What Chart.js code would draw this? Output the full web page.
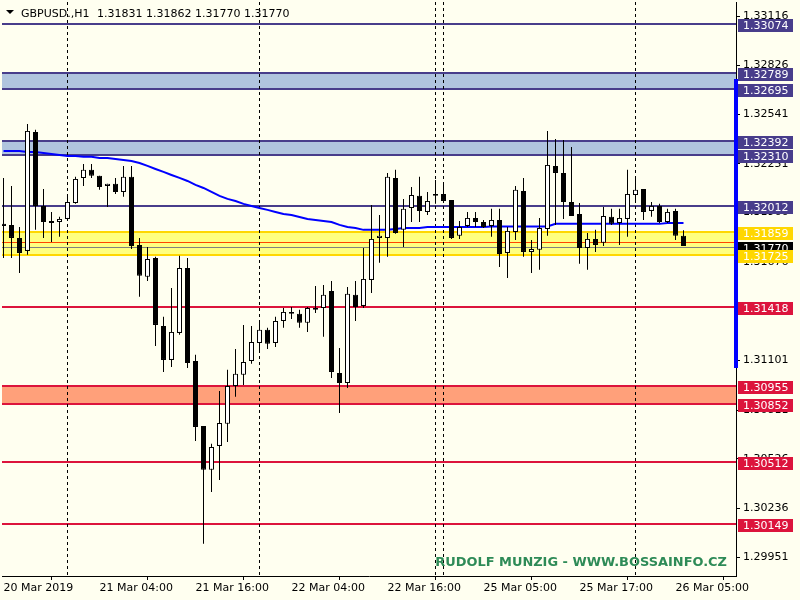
<!DOCTYPE html>
<html>
<head>
<meta charset="utf-8">
<script src="https://cdn.jsdelivr.net/npm/chart.js@4.4.1/dist/chart.umd.min.js"></script>
<style>
  html, body { margin: 0; padding: 0; background: #FFFFF0; }
  #c { display: block; }
</style>
</head>
<body>
<canvas id="c" width="800" height="600"></canvas>
<script>
/* GBPUSD H1 — MT4 style candles with levels */
const symbolText = 'GBPUSD.,H1';
const watermark = 'RUDOLF MUNZIG - WWW.BOSSAINFO.CZ';

// hourly candles, left to right
const opens = [
  1.31900, 1.31894, 1.31818, 1.31742, 1.32438, 1.32005, 1.31917, 1.31911, 1.31929, 1.32022,
  1.32169, 1.32216, 1.32181, 1.32122, 1.32134, 1.32087, 1.32175, 1.31777, 1.31590, 1.31701,
  1.31303, 1.31104, 1.31262, 1.31642, 1.31098, 1.30718, 1.30461, 1.30601, 1.30730, 1.30952,
  1.31017, 1.31098, 1.31203, 1.31280, 1.31203, 1.31332, 1.31385, 1.31374, 1.31321, 1.31408,
  1.31408, 1.31508, 1.31028, 1.30969, 1.31485, 1.31420, 1.31572, 1.31818, 1.31818, 1.32169,
  1.31865, 1.31993, 1.32064, 1.31970, 1.32064, 1.32075, 1.32040, 1.31830, 1.31888, 1.31935,
  1.31911, 1.31888, 1.31923, 1.31730, 1.31853, 1.32093, 1.31736, 1.31748, 1.31870, 1.32239,
  1.32198, 1.32028, 1.31958, 1.31759, 1.31812, 1.31789, 1.31941, 1.31905, 1.31929, 1.32069,
  1.32104, 1.31976, 1.32005, 1.31911, 1.31976, 1.31831
];
const highs = [
  1.32169, 1.32122, 1.31882, 1.32485, 1.32450, 1.32104, 1.31970, 1.31941, 1.32058, 1.32175,
  1.32251, 1.32251, 1.32181, 1.32134, 1.32169, 1.32239, 1.32239, 1.31818, 1.31765, 1.31707,
  1.31356, 1.31525, 1.31713, 1.31701, 1.31134, 1.30718, 1.30613, 1.30923, 1.31046, 1.31168,
  1.31309, 1.31303, 1.31338, 1.31292, 1.31356, 1.31408, 1.31414, 1.31397, 1.31414, 1.31537,
  1.31543, 1.31566, 1.31174, 1.31531, 1.31566, 1.31759, 1.32011, 1.31952, 1.32198, 1.32216,
  1.32046, 1.32116, 1.32175, 1.32087, 1.32157, 1.32145, 1.32040, 1.31917, 1.31970, 1.31970,
  1.31923, 1.31988, 1.31988, 1.31882, 1.32122, 1.32169, 1.31806, 1.31935, 1.32444, 1.32397,
  1.32391, 1.32350, 1.32022, 1.31847, 1.31865, 1.31999, 1.31988, 1.31988, 1.32216, 1.32175,
  1.32104, 1.32028, 1.32017, 1.31988, 1.31988, 1.31862
];
const lows = [
  1.31701, 1.31701, 1.31613, 1.31719, 1.31865, 1.31818, 1.31794, 1.31824, 1.31923, 1.32017,
  1.32122, 1.32169, 1.32099, 1.31999, 1.32075, 1.32058, 1.31753, 1.31473, 1.31566, 1.31186,
  1.31034, 1.31063, 1.31251, 1.31057, 1.30630, 1.30028, 1.30332, 1.30402, 1.30624, 1.30888,
  1.30958, 1.31081, 1.31145, 1.31168, 1.31180, 1.31292, 1.31344, 1.31292, 1.31268, 1.31379,
  1.31239, 1.30999, 1.30794, 1.30940, 1.31332, 1.31408, 1.31496, 1.31672, 1.31707, 1.31842,
  1.31765, 1.31911, 1.31911, 1.31952, 1.32017, 1.32022, 1.31812, 1.31812, 1.31882, 1.31882,
  1.31876, 1.31824, 1.31648, 1.31584, 1.31806, 1.31707, 1.31613, 1.31631, 1.31830, 1.31894,
  1.31929, 1.31946, 1.31666, 1.31631, 1.31736, 1.31771, 1.31894, 1.31777, 1.31824, 1.32040,
  1.31923, 1.31941, 1.31905, 1.31905, 1.31806, 1.31770
];
const closes = [
  1.31888, 1.31818, 1.31730, 1.32444, 1.32005, 1.31911, 1.31905, 1.31929, 1.32028, 1.32163,
  1.32216, 1.32181, 1.32116, 1.32134, 1.32087, 1.32175, 1.31771, 1.31596, 1.31695, 1.31309,
  1.31104, 1.31268, 1.31642, 1.31086, 1.30712, 1.30461, 1.30595, 1.30735, 1.30952, 1.31023,
  1.31092, 1.31209, 1.31280, 1.31198, 1.31332, 1.31385, 1.31374, 1.31321, 1.31408, 1.31397,
  1.31485, 1.31034, 1.30969, 1.31491, 1.31414, 1.31578, 1.31812, 1.31830, 1.32175, 1.31847,
  1.31988, 1.32069, 1.31976, 1.32034, 1.32075, 1.32034, 1.31818, 1.31882, 1.31935, 1.31911,
  1.31882, 1.31923, 1.31724, 1.31859, 1.32099, 1.31736, 1.31753, 1.31876, 1.32245, 1.32198,
  1.32028, 1.31946, 1.31759, 1.31812, 1.31777, 1.31946, 1.31900, 1.31935, 1.32075, 1.32099,
  1.31970, 1.32005, 1.31911, 1.31970, 1.31830, 1.31770
];
// moving average (blue)
const maValues = [
  1.32327, 1.32327, 1.32327, 1.32321, 1.32321, 1.32315, 1.32309, 1.32303, 1.32297, 1.32297,
  1.32292, 1.32292, 1.32286, 1.32286, 1.32280, 1.32274, 1.32268, 1.32256, 1.32239, 1.32221,
  1.32204, 1.32186, 1.32169, 1.32151, 1.32128, 1.32110, 1.32087, 1.32064, 1.32046, 1.32034,
  1.32017, 1.32005, 1.31993, 1.31982, 1.31970, 1.31958, 1.31952, 1.31940, 1.31929, 1.31923,
  1.31917, 1.31911, 1.31894, 1.31882, 1.31876, 1.31865, 1.31865, 1.31865, 1.31865, 1.31870,
  1.31876, 1.31876, 1.31876, 1.31882, 1.31882, 1.31882, 1.31882, 1.31882, 1.31882, 1.31882,
  1.31882, 1.31885, 1.31885, 1.31885, 1.31885, 1.31885, 1.31885, 1.31885, 1.31885, 1.31900,
  1.31900, 1.31900, 1.31900, 1.31900, 1.31900, 1.31900, 1.31900, 1.31900, 1.31900, 1.31900,
  1.31900, 1.31900, 1.31900, 1.31905, 1.31905, 1.31905
];

const xTickIdx = [0, 12, 24, 36, 48, 60, 72, 84];
const xTickText = ['20 Mar 2019', '21 Mar 04:00', '21 Mar 16:00', '22 Mar 04:00',
                   '22 Mar 16:00', '25 Mar 05:00', '25 Mar 17:00', '26 Mar 05:00'];
const sepIdx = [8, 32, 54, 55, 79];   // day separators (bar index)
const yTicks = [1.33116, 1.32826, 1.32541, 1.32251, 1.31966, 1.31676,
                1.31391, 1.31101, 1.30811, 1.30526, 1.30236, 1.29951];

// horizontal levels
const blueLines = [1.33074, 1.32012];
const blueBands = [[1.32789, 1.32695], [1.32392, 1.32310]];
const yellowBand = [1.31859, 1.31725];
const redLines = [1.31418, 1.30512, 1.30149];
const salmonBand = [1.30955, 1.30852];
const askPrice = 1.31794;
const bidPrice = 1.31770;
const rangeBar = [1.32748, 1.31057];   // blue bar on the price scale

// colours
const BG = '#FFFFF0', SLATE = '#483D8B', STEEL = '#B0C4DE', GOLD = '#FFD700', PALEY = '#FFFF80',
      CRIMSON = '#DC143C', SALMON = '#FFA07A', ASK = '#FF4500', BID = '#808080', MA = '#0000FF';
const FONT = 'DejaVu Sans';

function levelsPlugin(){
  return {
    id: 'levels',
    beforeDraw(chart){
      const ctx = chart.ctx;
      ctx.save(); ctx.fillStyle = BG; ctx.fillRect(0, 0, chart.width, chart.height); ctx.restore();
    },
    beforeDatasetsDraw(chart){
      const {ctx, chartArea: a, scales: {x, y}} = chart;
      const w = a.right - a.left;
      const py = v => Math.round(y.getPixelForValue(v));
      ctx.save();
      ctx.beginPath(); ctx.rect(a.left, a.top, w, a.bottom - a.top); ctx.clip();
      const band = (b, fill, edge) => {
        const t = py(b[0]), btm = py(b[1]);
        ctx.fillStyle = fill; ctx.fillRect(a.left, t, w, btm - t + 2);
        ctx.fillStyle = edge; ctx.fillRect(a.left, t, w, 2); ctx.fillRect(a.left, btm, w, 2);
      };
      blueBands.forEach(b => band(b, STEEL, SLATE));
      band(yellowBand, PALEY, GOLD);
      band(salmonBand, SALMON, CRIMSON);
      ctx.fillStyle = SLATE; blueLines.forEach(v => ctx.fillRect(a.left, py(v), w, 2));
      ctx.fillStyle = CRIMSON; redLines.forEach(v => ctx.fillRect(a.left, py(v), w, 2));
      ctx.fillStyle = ASK; ctx.fillRect(a.left, py(askPrice), w, 1);
      ctx.fillStyle = BID; ctx.fillRect(a.left, py(bidPrice) + 1, w, 1);
      // day separators
      ctx.strokeStyle = '#000'; ctx.lineWidth = 1; ctx.setLineDash([3, 3]);
      sepIdx.forEach(i => {
        const px = Math.floor(x.getPixelForValue(i)) + 0.5;
        ctx.beginPath(); ctx.moveTo(px, a.top); ctx.lineTo(px, a.bottom); ctx.stroke();
      });
      ctx.restore();
    },
    afterDraw(chart){
      const {ctx, chartArea: a, scales: {y}} = chart;
      const py = v => Math.round(y.getPixelForValue(v));
      ctx.save();
      // blue bar at the right edge
      ctx.fillStyle = MA;
      ctx.fillRect(a.right - 2, py(rangeBar[0]), 4, py(rangeBar[1]) - py(rangeBar[0]));
      // price labels
      const labels = [];
      blueLines.forEach(v => labels.push([v, SLATE]));
      blueBands.forEach(b => b.forEach(v => labels.push([v, SLATE])));
      yellowBand.forEach(v => labels.push([v, GOLD]));
      labels.push([bidPrice, '#000000']);
      redLines.forEach(v => labels.push([v, CRIMSON]));
      salmonBand.forEach(v => labels.push([v, CRIMSON]));
      labels.sort((p, q) => q[0] - p[0]);
      ctx.font = '11px "' + FONT + '"'; ctx.textBaseline = 'middle'; ctx.textAlign = 'left';
      labels.forEach(([v, c]) => {
        const t = py(v);
        ctx.fillStyle = c; ctx.fillRect(a.right + 2, t - 4, 55, 13);
        ctx.fillStyle = '#FFFFFF'; ctx.fillText(v.toFixed(5), a.right + 7, t + 3);
      });
      // title
      ctx.fillStyle = '#000';
      ctx.beginPath(); ctx.moveTo(6, 10); ctx.lineTo(14, 10); ctx.lineTo(10, 14); ctx.closePath(); ctx.fill();
      ctx.textBaseline = 'alphabetic';
      ctx.fillText(symbolText, 21, 17);
      const n = closes.length - 1;
      ctx.fillText([opens[n], highs[n], lows[n], closes[n]].map(v => v.toFixed(5)).join(' '), 97, 17);
      // watermark
      ctx.font = 'bold 13px "' + FONT + '"';
      const tw = ctx.measureText(watermark).width;
      const size = 13 * 292 / tw;
      ctx.font = 'bold ' + size.toFixed(2) + 'px "' + FONT + '"';
      ctx.fillStyle = '#2E8B57'; ctx.textAlign = 'right';
      ctx.fillText(watermark, a.right - 9, 566);
      ctx.restore();
    }
  };
}

const idx = closes.map((_, i) => i);
const bodyColors = idx.map(i => closes[i] >= opens[i] ? '#FFFFFF' : '#000000');

new Chart(document.getElementById('c'), {
  type: 'bar',
  data: {
    datasets: [
      { label: 'body', order: 1, grouped: false,
        data: idx.map(i => ({x: i, y: [opens[i], closes[i]]})),
        backgroundColor: bodyColors, borderColor: '#000', borderWidth: 1, borderSkipped: false,
        barThickness: 5, minBarLength: 1, inflateAmount: 0 },
      { label: 'wick', order: 2, grouped: false,
        data: idx.map(i => ({x: i, y: [lows[i], highs[i]]})),
        backgroundColor: '#000', borderWidth: 0, barThickness: 1, inflateAmount: 0 },
      { type: 'line', label: 'MA', order: 3,
        data: idx.map(i => ({x: i, y: maValues[i]})),
        borderColor: MA, borderWidth: 2, pointRadius: 0, tension: 0, fill: false }
    ]
  },
  options: {
    responsive: false, animation: false, events: [],
    layout: { padding: { top: 2, left: 2, right: 0, bottom: 0 } },
    plugins: { legend: { display: false }, tooltip: { enabled: false } },
    scales: {
      x: {
        type: 'linear', min: -0.1875, max: 91.5625, offset: false,
        afterBuildTicks: s => { s.ticks = xTickIdx.map(v => ({ value: v })); },
        afterFit: s => { s.height = 24; s.paddingLeft = 0; s.paddingRight = 0; },
        grid: { drawOnChartArea: false, tickLength: 4, color: '#000' },
        border: { color: '#000' },
        ticks: { autoSkip: false, maxRotation: 0, align: 'start', padding: 2, color: '#000',
                 font: { family: FONT, size: 11 }, callback: (v, i) => xTickText[i] }
      },
      y: {
        type: 'linear', position: 'right', min: 1.29840, max: 1.33198,
        afterBuildTicks: s => { s.ticks = yTicks.map(v => ({ value: v })); },
        afterFit: s => { s.width = 64; s.paddingTop = 0; s.paddingBottom = 0; },
        grid: { drawOnChartArea: false, tickLength: 4, color: '#000' },
        border: { color: '#000' },
        ticks: { autoSkip: false, padding: 3, color: '#000',
                 font: { family: FONT, size: 11 }, callback: v => v.toFixed(5) }
      }
    }
  },
  plugins: [levelsPlugin()]
});
</script>
</body>
</html>
